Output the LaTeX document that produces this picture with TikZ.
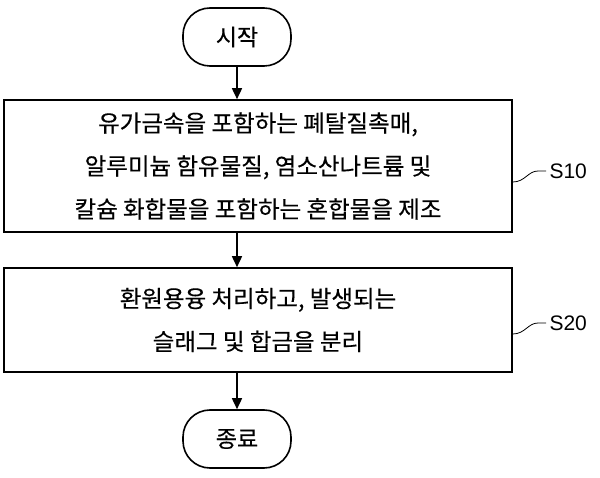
\documentclass[tikz,border=0pt]{standalone}
\usepackage{fontspec}
\setmainfont{Noto Sans CJK KR}[FakeBold=0.4]
\newfontfamily\lat{Liberation Sans}
\usetikzlibrary{arrows.meta}
\begin{document}
\begin{tikzpicture}[x=1pt,y=-1pt,
  term/.style={draw,line width=1.6pt,rounded corners=27pt,minimum width=108pt,minimum height=58pt,font=\fontsize{23}{26}\selectfont},
  procbox/.style={draw,line width=1.6pt,minimum width=508pt,inner sep=0pt,align=center,font=\fontsize{23.5}{43}\selectfont},
  arr/.style={line width=1.6pt,-{Triangle[length=11pt,width=10pt]}},
  lead/.style={line width=0.8pt},
  lbl/.style={font=\lat\fontsize{21}{24}\selectfont}]
\useasboundingbox (0,0) rectangle (600,478);
\node[term] (start) at (237,37) {시작};
\node[procbox,minimum height=132pt] (s10) at (258,166) {유가금속을 포함하는 폐탈질촉매,\\알루미늄 함유물질, 염소산나트륨 및\\칼슘 화합물을 포함하는 혼합물을 제조};
\node[procbox,minimum height=104pt] (s20) at (258,320) {환원용융 처리하고, 발생되는\\슬래그 및 합금을 분리};
\node[term] (end) at (237,439) {종료};
\draw[arr] (start) -- (start |- s10.north);
\draw[arr] (start |- s10.south) -- (start |- s20.north);
\draw[arr] (start |- s20.south) -- (end);
\node[lbl,anchor=west] (l10) at (546,171) {S10};
\node[lbl,anchor=west] (l20) at (546,323) {S20};
\draw[lead] (s10.east |- 0,182) .. controls (525,182) and (528,171) .. (538,171) -- (l10.west);
\draw[lead] (s20.east |- 0,334) .. controls (525,334) and (528,323) .. (538,323) -- (l20.west);
\end{tikzpicture}
\end{document}
